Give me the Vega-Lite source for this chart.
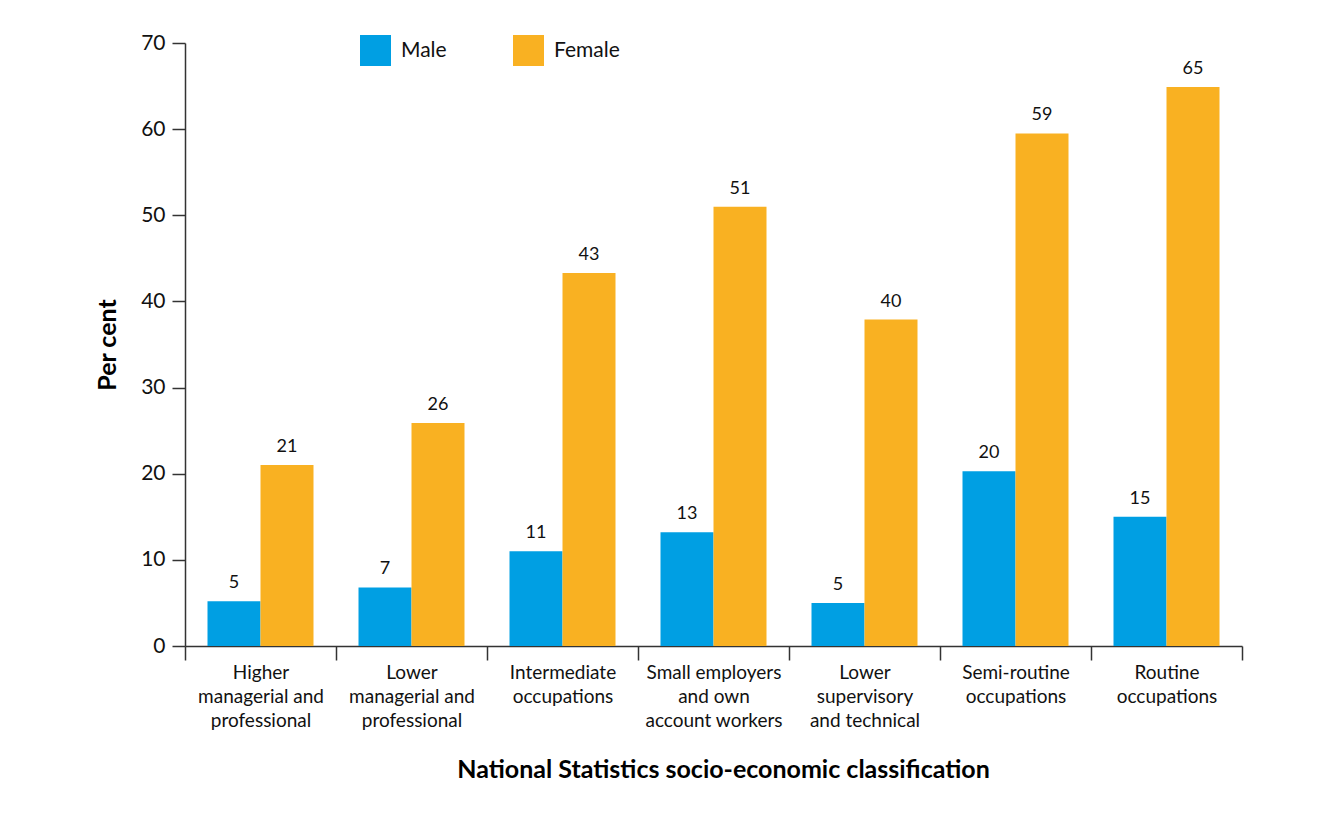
{
  "$schema": "https://vega.github.io/schema/vega-lite/v6.json",
  "autosize": {"type": "none"},
  "width": 1057,
  "height": 603,
  "padding": {"left": 185, "top": 43, "right": 88, "bottom": 172},
  "background": "white",
  "config": {
    "font": "Lato",
    "view": {"stroke": null},
    "axis": {"domainColor": "#333333", "tickColor": "#333333", "domainWidth": 1.5, "tickWidth": 1.5, "labelColor": "#111111", "titleColor": "#000000", "grid": false}
  },
  "data": {
    "values": [
      {"category": "Higher|managerial and|professional", "sex": "Male", "value": 5.2, "label": "5"},
      {"category": "Higher|managerial and|professional", "sex": "Female", "value": 21.0, "label": "21"},
      {"category": "Lower|managerial and|professional", "sex": "Male", "value": 6.8, "label": "7"},
      {"category": "Lower|managerial and|professional", "sex": "Female", "value": 25.9, "label": "26"},
      {"category": "Intermediate|occupations", "sex": "Male", "value": 11.0, "label": "11"},
      {"category": "Intermediate|occupations", "sex": "Female", "value": 43.3, "label": "43"},
      {"category": "Small employers|and own|account workers", "sex": "Male", "value": 13.2, "label": "13"},
      {"category": "Small employers|and own|account workers", "sex": "Female", "value": 51.0, "label": "51"},
      {"category": "Lower|supervisory|and technical", "sex": "Male", "value": 5.0, "label": "5"},
      {"category": "Lower|supervisory|and technical", "sex": "Female", "value": 37.9, "label": "40"},
      {"category": "Semi-routine|occupations", "sex": "Male", "value": 20.3, "label": "20"},
      {"category": "Semi-routine|occupations", "sex": "Female", "value": 59.5, "label": "59"},
      {"category": "Routine|occupations", "sex": "Male", "value": 15.0, "label": "15"},
      {"category": "Routine|occupations", "sex": "Female", "value": 64.9, "label": "65"}
    ]
  },
  "encoding": {
    "x": {
      "field": "category",
      "type": "nominal",
      "sort": null,
      "scale": {"paddingInner": 0, "paddingOuter": 0},
      "axis": {
        "title": "National Statistics socio-economic classification",
        "titleFontSize": 25,
        "titleFontWeight": "bold",
        "titlePadding": 27,
        "titleX": 538,
        "titleAlign": "center",
        "labelExpr": "split(datum.label, '|')",
        "labelAngle": 0,
        "labelFontSize": 19,
        "labelLineHeight": 24,
        "labelPadding": 3,
        "labelBaseline": "top",
        "tickBand": "extent",
        "tickSize": 14,
        "labelLimit": 300
      }
    },
    "xOffset": {"field": "sex", "type": "nominal", "sort": ["Male", "Female"], "scale": {"paddingInner": 0, "paddingOuter": 0.4245}},
    "y": {
      "field": "value",
      "type": "quantitative",
      "scale": {"domain": [0, 70]},
      "axis": {
        "title": "Per cent",
        "titleFontSize": 25,
        "titleFontWeight": "bold",
        "titlePadding": 20,
        "values": [0, 10, 20, 30, 40, 50, 60, 70],
        "labelFontSize": 21,
        "labelPadding": 7,
        "tickSize": 13
      }
    }
  },
  "layer": [
    {
      "mark": {"type": "bar"},
      "encoding": {
        "color": {
          "field": "sex",
          "type": "nominal",
          "scale": {"domain": ["Male", "Female"], "range": ["#009FE3", "#F9B122"]},
          "legend": {
            "title": null,
            "orient": "none",
            "direction": "horizontal",
            "legendX": 175,
            "legendY": -8,
            "symbolType": "square",
            "symbolSize": 961,
            "symbolStrokeWidth": 0,
            "labelFontSize": 21,
            "labelOffset": 10,
            "columnPadding": 66,
            "labelColor": "#111111"
          }
        }
      }
    },
    {
      "mark": {"type": "text", "baseline": "bottom", "dy": -9, "fontSize": 18, "color": "#111111"},
      "encoding": {"text": {"field": "label"}}
    }
  ]
}
